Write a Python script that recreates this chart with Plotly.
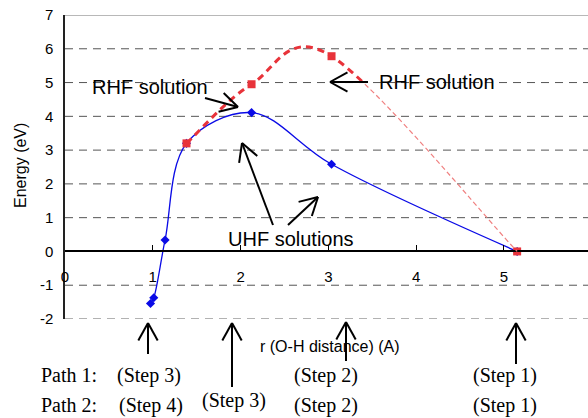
import math
import plotly.graph_objects as go

# ---- data ----
uhf_r = [0.974, 1.011, 1.14, 1.384, 2.125, 3.036, 5.15]
uhf_e = [-1.54, -1.37, 0.34, 3.20, 4.11, 2.58, 0.0]
rhf_r = [1.384, 2.125, 3.036, 5.15]
rhf_e = [3.20, 4.95, 5.78, 0.0]
x_ticks = [0, 1, 2, 3, 4, 5]
y_ticks = [-2, -1, 0, 1, 2, 3, 4, 5, 6, 7]
grid_vals = [-1, 1, 2, 3, 4, 5, 6]

# ---- geometry (pixels) ----
W, H = 588, 418
L, R, T, B = 65, 588, 15, 319
XMAX = (R - 65.25) / 87.75

RED = "#e8333a"
RED_LIGHT = "#f08080"


def xp(px):
    return (px - L) / (R - L)


def yp(py):
    return (B - py) / (B - T)


# Excel-style smoothed curve (Catmull-Rom Bezier) through the RHF points,
# drawn as a path in data coordinates
def bezier_segments(xs, ys):
    pts = list(zip(xs, ys))
    n = len(pts)
    segs = []
    for i in range(n - 1):
        p0 = pts[i - 1] if i > 0 else pts[i]
        p1, p2 = pts[i], pts[i + 1]
        p3 = pts[i + 2] if i + 2 < n else pts[i + 1]
        c1 = (p1[0] + (p2[0] - p0[0]) / 6, p1[1] + (p2[1] - p0[1]) / 6)
        c2 = (p2[0] - (p3[0] - p1[0]) / 6, p2[1] - (p3[1] - p1[1]) / 6)
        segs.append((p1, c1, c2, p2))
    return segs


def split(seg, t):
    a, b, c, d = seg
    lerp = lambda p, q: (p[0] + (q[0] - p[0]) * t, p[1] + (q[1] - p[1]) * t)
    ab, bc, cd = lerp(a, b), lerp(b, c), lerp(c, d)
    abc, bcd = lerp(ab, bc), lerp(bc, cd)
    m = lerp(abc, bcd)
    return (a, ab, abc, m), (m, bcd, cd, d)


def path_of(segs):
    s = "M %f,%f" % segs[0][0]
    for _, c1, c2, p in segs:
        s += " C %f,%f %f,%f %f,%f" % (c1 + c2 + p)
    return s


segs = bezier_segments(rhf_r, rhf_e)
last_a, last_b = split(segs[-1], 0.2)
thick_path = path_of(segs[:-1] + [last_a])
thin_path = path_of([last_b])

fig = go.Figure()

# UHF
fig.add_trace(go.Scatter(x=uhf_r, y=uhf_e, mode="lines+markers",
                         line=dict(shape="spline", color="#0a0ae6", width=1.3),
                         marker=dict(symbol="diamond", size=7, color="#0a0ae6"),
                         showlegend=False))
# RHF markers
fig.add_trace(go.Scatter(x=rhf_r, y=rhf_e, mode="markers",
                         marker=dict(symbol="square", size=8, color=RED),
                         showlegend=False))

shapes = []
for v in grid_vals:
    shapes.append(dict(type="line", xref="paper", x0=0, x1=1, yref="y", y0=v, y1=v,
                       line=dict(color="#555555", width=1, dash="8px,6px"), layer="below"))
shapes.append(dict(type="line", xref="paper", x0=0, x1=1, yref="y", y0=7, y1=7,
                   line=dict(color="#b8b8b8", width=2), layer="below"))
shapes.append(dict(type="line", xref="paper", x0=0, x1=1, yref="y", y0=-2, y1=-2,
                   line=dict(color="#999999", width=1.5, dash="8px,6px"), layer="below"))
shapes.append(dict(type="path", xref="x", yref="y", path=thin_path,
                   line=dict(color=RED_LIGHT, width=1.2, dash="5px,3px"), layer="above"))
shapes.append(dict(type="path", xref="x", yref="y", path=thick_path,
                   line=dict(color=RED, width=3, dash="7px,5px"), layer="above"))

sans = "Liberation Sans, Arial, sans-serif"
serif = "Liberation Serif, Times New Roman, serif"
ann = []


def text(px, py, s, size=20, font=sans, angle=0):
    ann.append(dict(xref="paper", yref="paper", x=xp(px), y=yp(py), text=s, showarrow=False,
                    font=dict(family=font, size=size, color="black"), textangle=angle,
                    xanchor="center", yanchor="middle"))


def seg_shape(x0, y0, x1, y1):
    shapes.append(dict(type="line", xref="paper", yref="paper",
                       x0=xp(x0), y0=yp(y0), x1=xp(x1), y1=yp(y1),
                       line=dict(color="black", width=2), layer="above"))


def arrow(hx, hy, tx, ty, head=20, ang=29):
    seg_shape(tx, ty, hx, hy)
    a = math.atan2(ty - hy, tx - hx)
    for s in (-1, 1):
        b = a + s * math.radians(ang)
        seg_shape(hx, hy, hx + head * math.cos(b), hy + head * math.sin(b))


text(150, 87, "RHF solution")
arrow(238, 107, 205, 98)
text(437, 82, "RHF solution")
arrow(330, 82, 368, 82)
text(291, 239, "UHF solutions")
arrow(242, 143, 273, 225)
arrow(318, 197, 288, 225)

text(330, 346, "r (O-H distance) (A)", size=16)
text(20, 166, "Energy (eV)", size=16, angle=-90)

arrow(148, 323, 148, 354)
arrow(232, 323, 232, 387)
arrow(346, 322, 346, 361)
arrow(516, 323, 516, 364)

text(69, 375, "Path 1:", font=serif)
text(149, 375, "(Step 3)", font=serif)
text(326, 375, "(Step 2)", font=serif)
text(505, 375, "(Step 1)", font=serif)
text(69, 405, "Path 2:", font=serif)
text(151, 405, "(Step 4)", font=serif)
text(234, 400, "(Step 3)", font=serif)
text(326, 405, "(Step 2)", font=serif)
text(505, 405, "(Step 1)", font=serif)

fig.update_layout(
    width=W, height=H,
    margin=dict(l=L, r=W - R, t=T, b=H - B),
    paper_bgcolor="white", plot_bgcolor="white",
    shapes=shapes, annotations=ann,
    xaxis=dict(range=[0, XMAX], anchor="free", position=2 / 9, showline=True,
               linecolor="black", linewidth=1.5, ticks="inside", ticklen=6, tickcolor="black",
               tickvals=x_ticks, ticktext=[str(v) for v in x_ticks], showgrid=False,
               zeroline=False, ticklabelstandoff=12,
               tickfont=dict(family=sans, size=15, color="black")),
    yaxis=dict(range=[-2, 7], showline=True, linecolor="#222222", linewidth=1.5,
               tickvals=y_ticks, ticktext=[str(v) for v in y_ticks], showgrid=False,
               zeroline=False, ticks="", ticklabelstandoff=7,
               tickfont=dict(family=sans, size=15, color="black")),
)

fig.write_html("out.html", config={"displayModeBar": False},
               post_script="document.body.style.margin='0px';document.body.style.overflow='hidden';")
